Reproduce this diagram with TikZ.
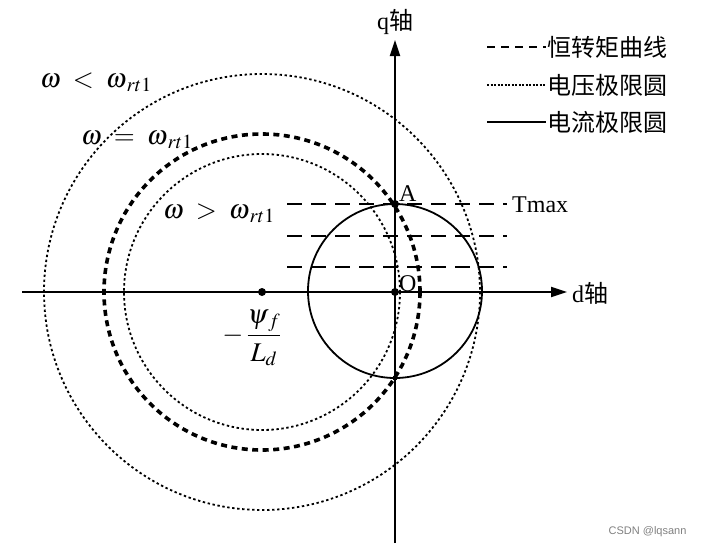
\documentclass[tikz,border=0pt]{standalone}
\usepackage{mathptmx}
\usepackage{fontspec}
\setmainfont{Liberation Serif}
\newfontfamily\cjk{Noto Sans CJK SC}
\usepackage{amsmath}
\usepackage{tikz}
\usetikzlibrary{positioning,arrows.meta,calc}
\usepackage{xcolor}

\begin{document}
\begin{tikzpicture}[
  x=1pt, y=-1pt,
  >={Triangle[length=16pt,width=10pt]},
  axis/.style={line width=1.8pt, ->},
  curlim/.style={line width=1.8pt},
  vollim/.style={line width=1.8pt, dash pattern=on 2.4pt off 2.6pt},
  volbold/.style={line width=3.6pt, dash pattern=on 6pt off 4.5pt},
  torq/.style={line width=1.3pt, dash pattern=on 15pt off 9pt},
  dot/.style={circle, fill, inner sep=0pt, minimum size=8pt},
  lbl/.style={font=\fontsize{24}{28}\selectfont, inner sep=1pt},
  cjklbl/.style={font=\cjk\fontsize{24}{28}\selectfont, inner sep=1pt},
  mlbl/.style={font=\fontsize{27}{31}\selectfont, inner sep=0pt},
]
  \useasboundingbox (0,0) rectangle (704,552);
  % ── Key points ──
  \coordinate (O)  at (395,292);
  \coordinate (C)  at (262,292);
  \coordinate (dL) at (22,292);
  \coordinate (dR) at (567,292);
  \coordinate (qB) at (395,543);
  \coordinate (qT) at (395,40);
  % ── Voltage and current limit circles ──
  \draw[vollim]  (C) circle[radius=218];
  \draw[volbold] (C) circle[radius=158];
  \draw[vollim]  (C) circle[radius=138];
  \draw[curlim]  (395,291) circle[radius=87];
  % ── Constant torque lines ──
  \coordinate (t1a) at (287,204); \coordinate (t1b) at (507,204);
  \coordinate (t2a) at (287,236); \coordinate (t2b) at (507,236);
  \coordinate (t3a) at (287,267); \coordinate (t3b) at (507,267);
  \draw[torq] (t1a) -- (t1b);
  \draw[torq] (t2a) -- (t2b);
  \draw[torq] (t3a) -- (t3b);
  % ── Axes ──
  \draw[axis] (dL) -- (dR);
  \draw[axis] (qB) -- (qT);
  \node[cjklbl, anchor=west] (dlab) at (571,293) {\fontspec{Liberation Serif}d\cjk 轴};
  \node[cjklbl] (qlab) at (395,22) {\fontspec{Liberation Serif}q\cjk 轴};
  % ── Points ──
  \node[dot] (A) at (395,204) {};
  \node[dot] (Odot) at (O) {};
  \node[dot] (Cdot) at (C) {};
  \node[circle, fill, inner sep=0pt, minimum size=5pt] (B) at (395,378) {};
  \node[lbl, anchor=south west] (Alab) at (398,203) {A};
  \node[lbl, anchor=south west] (Olab) at (398,293) {O};
  \node[lbl, anchor=west] (Tmax) at (511,205) {Tmax};
  \node[mlbl] (psi) at (252,338)
    {$-\,\dfrac{\psi_{\,f}}{L_d}$};
  % ── Speed labels ──
  \node[mlbl] (wlt) at (96,82)  {$\omega\;<\;\omega_{\,rt1}$};
  \node[mlbl] (weq) at (137,140) {$\omega\;=\;\omega_{\,rt1}$};
  \node[mlbl] (wgt) at (219,213) {$\omega\;>\;\omega_{\,rt1}$};
  % ── Legend ──
  \coordinate (l1a) at (487,47);  \coordinate (l1b) at (546,47);
  \coordinate (l2a) at (487,85);  \coordinate (l2b) at (546,85);
  \coordinate (l3a) at (487,122); \coordinate (l3b) at (546,122);
  \draw[line width=1.3pt, dash pattern=on 8pt off 6pt] (l1a) -- (l1b);
  \draw[line width=1.4pt, dash pattern=on 2pt off 1.5pt] (l2a) -- (l2b);
  \draw[line width=1.8pt] (l3a) -- (l3b);
  \node[cjklbl, anchor=west] (leg1) at (l1b) {恒转矩曲线};
  \node[cjklbl, anchor=west] (leg2) at (l2b) {电压极限圆};
  \node[cjklbl, anchor=west] (leg3) at (l3b) {电流极限圆};
  % ── Watermark ──
  \node[font=\fontspec{Liberation Sans}\fontsize{11}{13}\selectfont, text=gray, anchor=east]
    (wm) at (690,532) {CSDN @lqsann};
\end{tikzpicture}
\end{document}
